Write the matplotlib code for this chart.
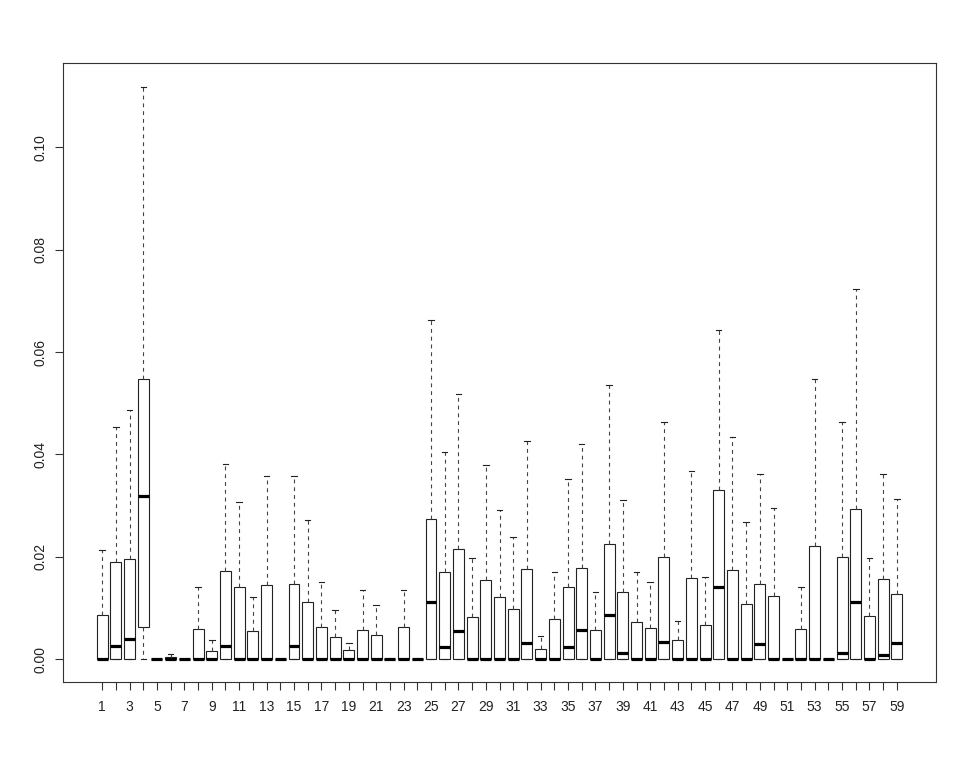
import numpy as np
import matplotlib
matplotlib.use('Agg')
import matplotlib.pyplot as plt

plt.rcParams['font.family'] = ['Liberation Sans', 'DejaVu Sans']

groups = list(range(1, 60))

q1 = [0, 0, 0, 0.0063, 0, 0, 0, 0, 0, 0,
      0, 0, 0, 0, 0, 0, 0, 0, 0, 0,
      0, 0, 0, 0, 0, 0, 0, 0, 0, 0,
      0, 0, 0, 0, 0, 0, 0, 0, 0, 0,
      0, 0, 0, 0, 0, 0, 0, 0, 0, 0,
      0, 0, 0, 0, 0, 0, 0, 0, 0]

medians = [0, 0.0025, 0.0039, 0.0318, 0, 0, 0, 0, 0, 0.0026,
           0, 0, 0, 0, 0.0025, 0, 0, 0, 0, 0,
           0, 0, 0, 0, 0.0112, 0.0024, 0.0055, 0, 0, 0,
           0, 0.0031, 0, 0, 0.0024, 0.0057, 0, 0.0086, 0.0012, 0,
           0, 0.0033, 0, 0, 0, 0.0140, 0, 0, 0.0030, 0,
           0, 0, 0, 0, 0.0011, 0.0112, 0, 0.0008, 0.0031]

q3 = [0.0087, 0.0190, 0.0195, 0.0548, 0, 0.0005, 0, 0.0059, 0.0016, 0.0172,
      0.0141, 0.0055, 0.0145, 0, 0.0146, 0.0111, 0.0062, 0.0044, 0.0017, 0.0057,
      0.0047, 0, 0.0062, 0, 0.0273, 0.0170, 0.0216, 0.0083, 0.0155, 0.0122,
      0.0097, 0.0176, 0.0020, 0.0079, 0.0141, 0.0179, 0.0056, 0.0224, 0.0131, 0.0072,
      0.0060, 0.0200, 0.0037, 0.0158, 0.0067, 0.0330, 0.0175, 0.0108, 0.0147, 0.0123,
      0, 0.0058, 0.0221, 0, 0.0200, 0.0293, 0.0084, 0.0157, 0.0127]

upper = [0.0213, 0.0454, 0.0486, 0.1119, 0, 0.0010, 0, 0.0141, 0.0037, 0.0381,
         0.0307, 0.0121, 0.0357, 0, 0.0357, 0.0272, 0.0150, 0.0095, 0.0031, 0.0136,
         0.0106, 0, 0.0136, 0, 0.0663, 0.0404, 0.0518, 0.0198, 0.0380, 0.0291,
         0.0239, 0.0427, 0.0046, 0.0170, 0.0352, 0.0421, 0.0131, 0.0535, 0.0311, 0.0171,
         0.0151, 0.0464, 0.0075, 0.0367, 0.0161, 0.0644, 0.0434, 0.0268, 0.0361, 0.0296,
         0, 0.0141, 0.0548, 0, 0.0463, 0.0724, 0.0197, 0.0362, 0.0313]

lower = [0] * 59

stats = []
for i in range(len(groups)):
    stats.append(dict(med=medians[i], q1=q1[i], q3=q3[i],
                      whislo=lower[i], whishi=upper[i], fliers=[]))

fig = plt.figure(figsize=(9.69, 7.61), dpi=100)
ax = fig.add_axes([0.065, 0.1038, 0.9010, 0.8134])

ax.bxp(stats, positions=groups, widths=0.8, capwidths=0.4, patch_artist=True,
       boxprops=dict(facecolor='white', edgecolor='#222222', linewidth=0.8),
       whiskerprops=dict(color='#444444', linewidth=0.8, linestyle=(0, (3.5, 3.5))),
       capprops=dict(color='#222222', linewidth=0.8),
       medianprops=dict(color='black', linewidth=2.3, solid_capstyle='butt'))

ax.set_xlim(-1.86, 61.86)
ax.set_ylim(-0.00448, 0.1165)

ax.set_xticks(groups)
ax.set_xticklabels([str(g) if g % 2 == 1 else '' for g in groups])
yt = [0, 0.02, 0.04, 0.06, 0.08, 0.10]
ax.set_yticks(yt)
ax.set_yticklabels(['%.2f' % v for v in yt], rotation=90, va='center')

ax.tick_params(axis='both', direction='out', length=6, width=0.8, color='#333333',
               labelsize=10, labelcolor='#222222')
ax.tick_params(axis='x', pad=7)
ax.tick_params(axis='y', pad=5)
for s in ax.spines.values():
    s.set_linewidth(0.8)
    s.set_color('#333333')

plt.savefig('out.png', dpi=100)
